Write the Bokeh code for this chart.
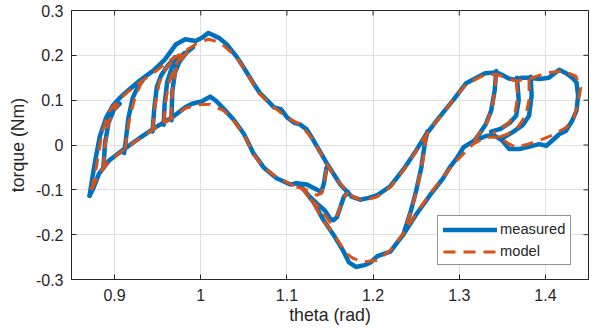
import math
from bokeh.plotting import figure
from bokeh.models import FixedTicker, Legend, LegendItem, Range1d
from bokeh.embed import file_html
from bokeh.resources import INLINE

# ---------------- data (theta in rad, torque in Nm) ----------------
# model: upper branch (theta increasing) incl. outer right loop
model_up_theta = [0.873, 0.877, 0.880, 0.886, 0.894, 0.9035, 0.917, 0.932, 0.948, 0.963, 0.982, 0.995,
                  1.009, 1.018, 1.027, 1.042, 1.054, 1.069, 1.085, 1.100, 1.115, 1.131, 1.146, 1.162,
                  1.177, 1.189, 1.204, 1.220, 1.235, 1.250, 1.262, 1.277, 1.293, 1.308, 1.327, 1.343,
                  1.354, 1.366, 1.381, 1.401, 1.420, 1.435, 1.441, 1.438, 1.433, 1.424, 1.408, 1.393,
                  1.380, 1.366, 1.356, 1.347]
model_up_torque = [-0.100, -0.070, -0.035, 0.032, 0.076, 0.098, 0.121, 0.143, 0.165, 0.187, 0.210, 0.226,
                   0.236, 0.231, 0.221, 0.195, 0.158, 0.113, 0.084, 0.061, 0.047, 0.010, -0.042, -0.087,
                   -0.116, -0.124, -0.116, -0.094, -0.057, -0.013, 0.024, 0.061, 0.100, 0.136, 0.154, 0.158,
                   0.150, 0.143, 0.147, 0.161, 0.165, 0.154, 0.128, 0.095, 0.060, 0.039, 0.022, 0.010,
                   0.002, -0.005, 0.004, 0.018]
# model: lower branch (theta decreasing)
model_lo_theta = [1.347, 1.331, 1.316, 1.297, 1.281, 1.266, 1.250, 1.235, 1.220, 1.204, 1.189, 1.177,
                  1.169, 1.154, 1.142, 1.131, 1.119, 1.104, 1.088, 1.073, 1.061, 1.050, 1.038, 1.027,
                  1.011, 0.998, 0.982, 0.967, 0.948, 0.928, 0.909, 0.894, 0.882, 0.873]
model_lo_torque = [0.018, 0.017, 0.002, -0.035, -0.072, -0.109, -0.153, -0.198, -0.235, -0.257, -0.261, -0.253,
                   -0.242, -0.198, -0.168, -0.131, -0.100, -0.087, -0.072, -0.050, -0.020, 0.024, 0.054, 0.076,
                   0.091, 0.090, 0.082, 0.061, 0.039, 0.013, -0.013, -0.035, -0.064, -0.100]
# model: reversal transitions
model_rev_theta = [
    [0.887, 0.889, 0.893, 0.899, 0.905],
    [0.912, 0.914, 0.918, 0.924, 0.932],
    [0.944, 0.947, 0.952, 0.960, 0.971],
    [0.957, 0.959, 0.963, 0.970, 0.979],
    [0.965, 0.967, 0.971, 0.979, 0.988],
    [1.343, 1.341, 1.338, 1.332, 1.323, 1.316],
    [1.366, 1.368, 1.365, 1.358, 1.348, 1.339],
    [1.381, 1.381, 1.377, 1.368, 1.357, 1.347],
    [1.262, 1.259, 1.254, 1.248, 1.241, 1.235],
    [1.111, 1.123, 1.135, 1.140, 1.144, 1.146],
    [1.127, 1.140, 1.150, 1.155, 1.160, 1.165, 1.171],
]
model_rev_torque = [
    [-0.052, 0.000, 0.050, 0.076, 0.091],
    [-0.010, 0.020, 0.065, 0.108, 0.143],
    [0.034, 0.090, 0.140, 0.172, 0.197],
    [0.049, 0.095, 0.138, 0.175, 0.206],
    [0.058, 0.125, 0.165, 0.195, 0.216],
    [0.158, 0.120, 0.080, 0.050, 0.025, 0.004],
    [0.143, 0.110, 0.075, 0.050, 0.036, 0.026],
    [0.147, 0.100, 0.065, 0.040, 0.025, 0.018],
    [0.024, -0.020, -0.070, -0.120, -0.165, -0.198],
    [-0.093, -0.100, -0.112, -0.108, -0.079, -0.045],
    [-0.120, -0.145, -0.172, -0.168, -0.150, -0.120, -0.105],
]

# measured: upper branch
meas_up_theta = [0.871, 0.874, 0.878, 0.883, 0.890, 0.898, 0.906, 0.917, 0.930, 0.945, 0.958, 0.971,
                 0.982, 0.994, 1.002, 1.009, 1.021, 1.030, 1.042, 1.054, 1.062, 1.069, 1.078, 1.085,
                 1.093, 1.100, 1.108, 1.115, 1.123, 1.131, 1.146, 1.162, 1.175, 1.185, 1.195, 1.205,
                 1.220, 1.235, 1.250, 1.262, 1.277, 1.293, 1.308, 1.320, 1.330, 1.343, 1.350, 1.358,
                 1.366, 1.372, 1.381, 1.393, 1.404, 1.416, 1.424, 1.431, 1.436, 1.438, 1.436, 1.431,
                 1.424, 1.416, 1.408, 1.401, 1.393, 1.385, 1.370, 1.358, 1.350]
meas_up_torque = [-0.113, -0.075, -0.030, 0.020, 0.060, 0.088, 0.105, 0.124, 0.145, 0.166, 0.190, 0.224,
                  0.236, 0.232, 0.240, 0.250, 0.239, 0.225, 0.196, 0.160, 0.135, 0.115, 0.098, 0.084,
                  0.080, 0.062, 0.050, 0.046, 0.035, 0.010, -0.040, -0.088, -0.115, -0.122, -0.118, -0.112,
                  -0.092, -0.055, -0.012, 0.025, 0.062, 0.100, 0.138, 0.150, 0.160, 0.162, 0.156, 0.148,
                  0.145, 0.150, 0.150, 0.147, 0.150, 0.168, 0.160, 0.150, 0.140, 0.110, 0.076, 0.054,
                  0.032, 0.024, 0.010, -0.002, 0.002, -0.002, -0.009, -0.009, 0.010]
# measured: lower branch
meas_lo_theta = [1.350, 1.340, 1.331, 1.316, 1.305, 1.297, 1.289, 1.281, 1.266, 1.250, 1.235, 1.220,
                 1.205, 1.197, 1.190, 1.180, 1.172, 1.165, 1.154, 1.142, 1.131, 1.119, 1.112, 1.104,
                 1.088, 1.073, 1.061, 1.050, 1.038, 1.027, 1.018, 1.011, 1.002, 0.990, 0.982, 0.967,
                 0.948, 0.928, 0.909, 0.894, 0.882, 0.875, 0.871]
meas_lo_torque = [0.010, 0.022, 0.020, 0.008, -0.005, -0.030, -0.050, -0.075, -0.112, -0.155, -0.200, -0.238,
                  -0.248, -0.262, -0.268, -0.272, -0.262, -0.235, -0.200, -0.166, -0.128, -0.098, -0.085, -0.088,
                  -0.074, -0.050, -0.018, 0.025, 0.057, 0.080, 0.098, 0.108, 0.098, 0.092, 0.084, 0.062,
                  0.040, 0.014, -0.012, -0.034, -0.064, -0.098, -0.113]
# measured: reversal transitions
meas_rev_theta = [
    [0.887, 0.889, 0.893, 0.899, 0.906],
    [0.911, 0.913, 0.916, 0.921, 0.927, 0.933],
    [0.944, 0.946, 0.949, 0.954, 0.961, 0.970],
    [0.957, 0.958, 0.961, 0.966, 0.973, 0.981],
    [0.966, 0.967, 0.970, 0.975, 0.983, 0.991],
    [1.343, 1.341, 1.337, 1.331, 1.323, 1.316],
    [1.367, 1.369, 1.366, 1.359, 1.348, 1.337],
    [1.383, 1.384, 1.381, 1.374, 1.363, 1.352],
    [1.263, 1.260, 1.256, 1.250, 1.244, 1.235],
    [1.111, 1.123, 1.135, 1.140, 1.143, 1.146],
    [1.127, 1.135, 1.144, 1.150, 1.154, 1.158, 1.162, 1.166, 1.171],
]
meas_rev_torque = [
    [-0.050, 0.005, 0.050, 0.078, 0.092],
    [-0.018, 0.010, 0.060, 0.105, 0.130, 0.145],
    [0.030, 0.080, 0.130, 0.155, 0.175, 0.196],
    [0.045, 0.090, 0.140, 0.170, 0.190, 0.205],
    [0.055, 0.120, 0.160, 0.185, 0.205, 0.218],
    [0.165, 0.120, 0.076, 0.047, 0.024, 0.006],
    [0.150, 0.100, 0.065, 0.050, 0.036, 0.030],
    [0.152, 0.110, 0.065, 0.045, 0.030, 0.017],
    [0.030, 0.003, -0.050, -0.102, -0.146, -0.200],
    [-0.085, -0.088, -0.100, -0.105, -0.085, -0.050],
    [-0.116, -0.131, -0.146, -0.164, -0.168, -0.161, -0.139, -0.116, -0.105],
]

x_start, x_end = 0.85, 1.45
y_start, y_end = -0.3, 0.3
x_ticks = [0.9, 1.0, 1.1, 1.2, 1.3, 1.4]
x_tick_labels = ["0.9", "1", "1.1", "1.2", "1.3", "1.4"]
y_ticks = [-0.3, -0.2, -0.1, 0.0, 0.1, 0.2, 0.3]
y_tick_labels = ["-0.3", "-0.2", "-0.1", "0", "0.1", "0.2", "0.3"]

# ---------------- figure ----------------
FONT = "Liberation Sans"
AX = "#262626"
BLUE = "#0072BD"
ORANGE = "#D95319"

p = figure(width=595, height=336, output_backend="svg", toolbar_location=None,
           x_range=Range1d(x_start, x_end), y_range=Range1d(y_start, y_end),
           min_border_left=71, min_border_right=7, min_border_top=10, min_border_bottom=57)
p.background_fill_color = "white"
p.border_fill_color = "white"
p.outline_line_color = AX
p.outline_line_width = 1

for ax, ticks, labels in ((p.xaxis[0], x_ticks, x_tick_labels), (p.yaxis[0], y_ticks, y_tick_labels)):
    ax.ticker = FixedTicker(ticks=ticks)
    ax.major_label_overrides = {t: l for t, l in zip(ticks, labels)}
    ax.major_tick_in = 5
    ax.major_tick_out = 0
    ax.minor_tick_in = 0
    ax.minor_tick_out = 0
    ax.axis_line_color = AX
    ax.major_tick_line_color = AX
    ax.major_label_text_font = FONT
    ax.major_label_text_font_size = "16px"
    ax.major_label_text_color = AX
    ax.axis_label_text_font = FONT
    ax.axis_label_text_font_size = "17.7px"
    ax.axis_label_text_font_style = "normal"
    ax.axis_label_text_color = AX

p.xaxis.axis_label = "theta (rad)"
p.yaxis.axis_label = "torque (Nm)"
p.xaxis.major_label_standoff = 9
p.yaxis.major_label_standoff = 8
p.xaxis.axis_label_standoff = 1
p.yaxis.axis_label_standoff = 5

p.xgrid.ticker = FixedTicker(ticks=x_ticks)
p.ygrid.ticker = FixedTicker(ticks=y_ticks)
p.grid.grid_line_color = "#e0e0e0"
p.grid.grid_line_width = 1

# inward ticks on top and right edges (MATLAB box style); clipped to frame
p.scatter(x=x_ticks, y=[y_end] * len(x_ticks), marker="dash", angle=math.pi / 2, size=10,
          line_color=AX, line_width=1)
p.scatter(x=[x_end] * len(y_ticks), y=y_ticks, marker="dash", size=10,
          line_color=AX, line_width=1)

meas_xs = [meas_up_theta, meas_lo_theta] + meas_rev_theta
meas_ys = [meas_up_torque, meas_lo_torque] + meas_rev_torque
model_xs = [model_up_theta, model_lo_theta] + model_rev_theta
model_ys = [model_up_torque, model_lo_torque] + model_rev_torque

r_meas = p.multi_line(meas_xs, meas_ys, line_color=BLUE, line_width=4.5,
                      line_join="round", line_cap="round")
r_model = p.multi_line(model_xs, model_ys, line_color=ORANGE, line_width=3,
                       line_dash="12 8", line_join="round")

legend = Legend(items=[LegendItem(label="measured", renderers=[r_meas]),
                       LegendItem(label="model", renderers=[r_model])],
                location=(366, 14), orientation="vertical")
legend.label_text_font = FONT
legend.label_text_font_size = "14.7px"
legend.label_text_color = AX
legend.glyph_width = 54
legend.glyph_height = 15
legend.label_height = 15
legend.label_standoff = 3
legend.spacing = 6
legend.padding = 5
legend.margin = 0
legend.border_line_color = AX
legend.border_line_width = 1
legend.background_fill_color = "white"
legend.background_fill_alpha = 1
p.add_layout(legend, "center")

open("out.html", "w").write(file_html(p, INLINE))
